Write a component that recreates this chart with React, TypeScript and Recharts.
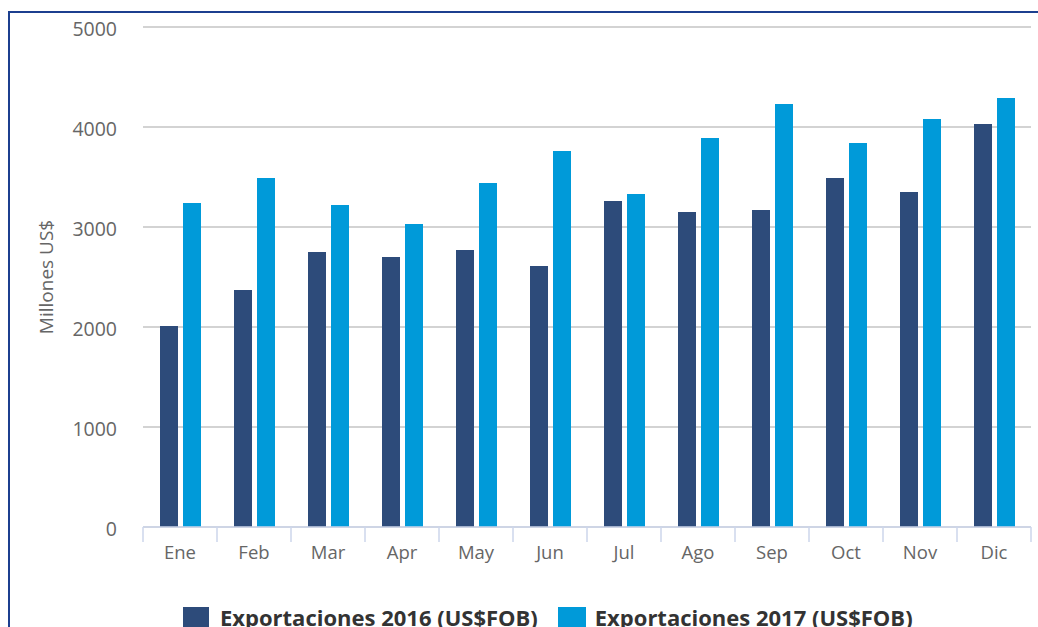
import React from 'react';
import { BarChart, Bar, XAxis, YAxis, CartesianGrid, Legend } from 'recharts';

const months = ['Ene', 'Feb', 'Mar', 'Apr', 'May', 'Jun', 'Jul', 'Ago', 'Sep', 'Oct', 'Nov', 'Dic'];
const exp2016 = [2010, 2370, 2750, 2700, 2770, 2610, 3260, 3150, 3170, 3490, 3350, 4030];
const exp2017 = [3240, 3490, 3220, 3030, 3440, 3760, 3330, 3890, 4230, 3840, 4080, 4290];
const yTicks = [0, 1000, 2000, 3000, 4000, 5000];
const seriesNames = ['Exportaciones 2016 (US$FOB)', 'Exportaciones 2017 (US$FOB)'];
const yLabel = 'Millones US$';

const DARK = '#2d4b7a';
const LIGHT = '#009ad9';
const FONT = '"Open Sans", "DejaVu Sans", sans-serif';

const data = months.map((m, i) => ({ month: m, a: exp2016[i], b: exp2017[i] }));

const MonthTick = (props: any) => {
  const { x, y, payload, index } = props;
  const off = payload && payload.offset ? payload.offset : 37;
  return (
    <g>
      <line x1={x - off} y1={y} x2={x - off} y2={y + 15} stroke="#ccd6eb" strokeWidth={1.5} />
      {index === months.length - 1 && (
        <line x1={x + off} y1={y} x2={x + off} y2={y + 15} stroke="#ccd6eb" strokeWidth={1.5} />
      )}
      <text x={x} y={y + 32} textAnchor="middle" fill="#666" fontSize={18.5} fontFamily={FONT}>
        {payload.value}
      </text>
    </g>
  );
};

const LegendContent = () => (
  <div
    style={{
      display: 'flex',
      alignItems: 'flex-start',
      paddingLeft: 183,
      fontFamily: FONT,
      fontWeight: 700,
      fontSize: 22,
      lineHeight: '28px',
      color: '#333',
      whiteSpace: 'nowrap',
    }}
  >
    <span style={{ display: 'inline-block', width: 26, height: 24, background: DARK, marginTop: 4, marginRight: 11 }} />
    <span>{seriesNames[0]}</span>
    <span style={{ display: 'inline-block', width: 28, height: 24, background: LIGHT, marginTop: 4, marginLeft: 20, marginRight: 9 }} />
    <span>{seriesNames[1]}</span>
  </div>
);

export default function App() {
  return (
    <div>
      <style>{'html,body{margin:0;overflow:hidden;}'}</style>
      <div
        style={{
          position: 'absolute',
          left: 8,
          top: 11,
          width: 1100,
          height: 700,
          borderTop: '2px solid #1c3f8f',
          borderLeft: '2px solid #1c3f8f',
          boxSizing: 'border-box',
        }}
      />
      <div style={{ position: 'absolute', left: 0, top: 0, width: 1038, height: 627 }}>
        <BarChart
          width={1038}
          height={627}
          data={data}
          margin={{ top: 27, right: 7, bottom: 60, left: 0 }}
          barSize={18}
          barGap={5}
        >
          <CartesianGrid horizontal vertical={false} stroke="#c4c4c4" strokeWidth={1.5} />
          <XAxis
            dataKey="month"
            height={40}
            interval={0}
            tickSize={0}
            tickMargin={0}
            tickLine={false}
            axisLine={{ stroke: '#ccd6eb', strokeWidth: 1.5 }}
            tick={<MonthTick />}
          />
          <YAxis
            width={143}
            domain={[0, 5000]}
            ticks={yTicks}
            interval={0}
            axisLine={false}
            tickLine={false}
            tickSize={0}
            tickMargin={26}
            tick={{ fill: '#666', fontSize: 19.5, fontFamily: FONT, dy: 2 }}
            label={{
              value: yLabel,
              angle: -90,
              position: 'center',
              dx: -25,
              fill: '#666',
              fontSize: 19,
              fontFamily: FONT,
            }}
          />
          <Legend
            verticalAlign="middle"
            align="center"
            layout="horizontal"
            content={<LegendContent />}
            wrapperStyle={{ top: 603, left: 0, width: 1038, height: 28 }}
          />
          <Bar dataKey="a" name={seriesNames[0]} fill={DARK} isAnimationActive={false} />
          <Bar dataKey="b" name={seriesNames[1]} fill={LIGHT} isAnimationActive={false} />
        </BarChart>
      </div>
    </div>
  );
}
